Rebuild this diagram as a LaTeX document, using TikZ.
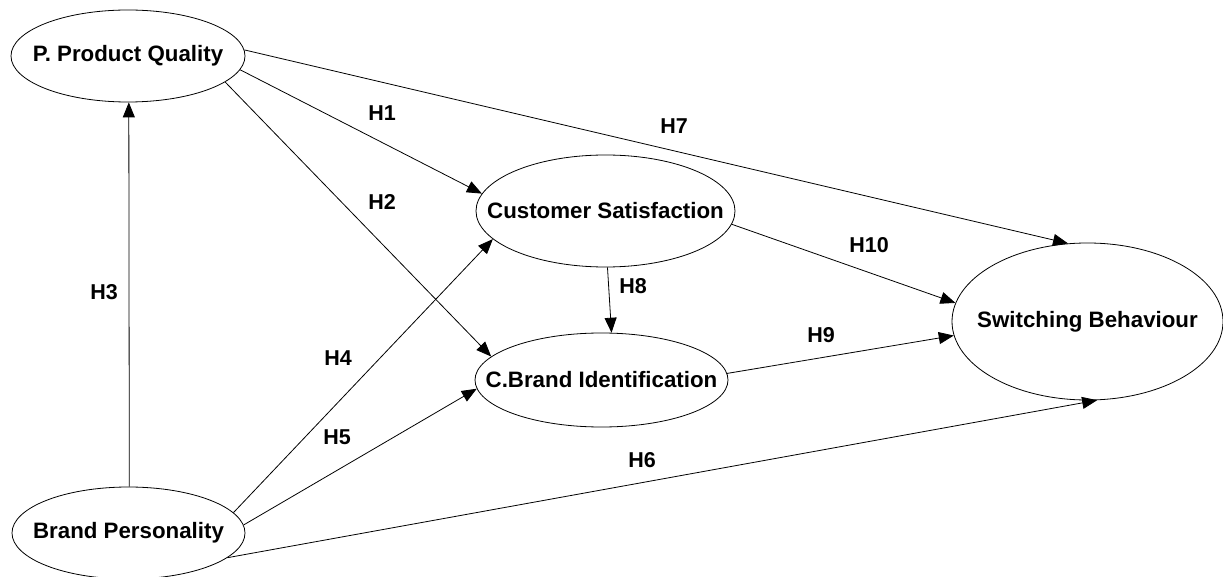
\documentclass[tikz,border=0pt]{standalone}
\usepackage{fontspec}
\setmainfont{Liberation Sans}
\usetikzlibrary{shapes.geometric,arrows.meta}
\tikzset{
  construct/.style={draw=black, line width=0.8pt, ellipse, inner sep=0pt, fill=white},
  ctext/.style={font=\fontsize{22.3}{26}\selectfont\bfseries},
  hyp/.style={draw=black, line width=0.8pt, -{Triangle[length=15pt,width=12pt]}},
  hlabel/.style={font=\fontsize{21.5}{25}\selectfont\bfseries, inner sep=0pt}
}
\begin{document}
\begin{tikzpicture}[x=1pt,y=-1pt]
\useasboundingbox (0,0) rectangle (1223,577);
\fill[white] (0,0) rectangle (1223,577);
\node[construct, minimum width=234pt, minimum height=92pt, label={[ctext]center:P. Product Quality}] (ppq) at (128,56) {};
\node[construct, minimum width=259pt, minimum height=112pt, label={[ctext]center:Customer Satisfaction}] (cs) at (605.5,211) {};
\node[construct, minimum width=253pt, minimum height=94pt, label={[ctext]center:C.Brand Identification}] (cbi) at (601.5,380) {};
\node[construct, minimum width=271pt, minimum height=157pt, label={[ctext]center:Switching Behaviour}] (sb) at (1087.5,321.5) {};
\node[construct, minimum width=233pt, minimum height=92pt, label={[ctext]center:Brand Personality}] (bp) at (128.5,533) {};

\draw[hyp] (ppq.-7.1) -- (cs.172.7);
\draw[hyp] (ppq.3.9) -- (sb.104.8);
\draw[hyp] (ppq.-15.1) -- (cbi.168.5);
\draw[hyp] (bp.89) -- (ppq.-89);
\draw[hyp] (bp.11.5) -- (cs.194);
\draw[hyp] (bp.4.5) -- (cbi.184.1);
\draw[hyp] (bp.-14.8) -- (sb.-83);
\draw[hyp] (cs.-88.5) -- (cbi.78.6);
\draw[hyp] (cs.-6.3) -- (sb.172);
\draw[hyp] (cbi.3.2) -- (sb.186.2);

\node[hlabel] (h1) at (382,113) {H1};
\node[hlabel] (h2) at (382,202) {H2};
\node[hlabel] (h3) at (104,292) {H3};
\node[hlabel] (h4) at (338,358) {H4};
\node[hlabel] (h5) at (337,437) {H5};
\node[hlabel] (h6) at (642,460) {H6};
\node[hlabel] (h7) at (674,126) {H7};
\node[hlabel] (h8) at (633,286) {H8};
\node[hlabel] (h9) at (821,335) {H9};
\node[hlabel] (h10) at (869,245) {H10};
\end{tikzpicture}
\end{document}
